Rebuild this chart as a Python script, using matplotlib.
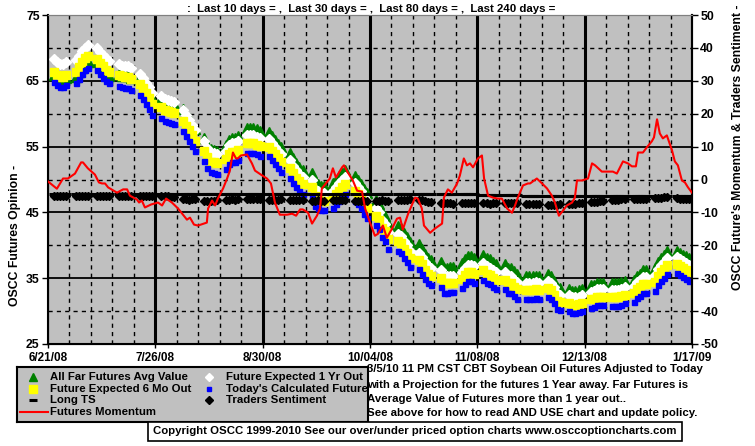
import numpy as np
import pandas as pd
import matplotlib
matplotlib.use("Agg")
import matplotlib.pyplot as plt
from matplotlib.patches import Rectangle

# ---------------- data ----------------
start = pd.Timestamp("2008-06-21")
trade_dates = pd.bdate_range("2008-06-23", "2009-01-16")
days = np.array([(d - start).days for d in trade_dates])

date_labels = ["6/21/08", "7/26/08", "8/30/08", "10/04/08", "11/08/08", "12/13/08", "1/17/09"]

today_calc = [
    64.8, 64.3, 64.0, 64.0, 64.3,
    64.6, 65.3, 66.0, 66.6, 67.0,
    66.6, 66.0, 65.5, 65.0, 64.6,
    64.2, 64.0, 63.9, 63.9, 63.6,
    62.8, 62.2, 61.4, 60.7, 59.8,
    59.3, 58.9, 58.7, 58.6, 58.4,
    57.3, 56.6, 55.9, 55.1, 54.3,
    52.8, 51.8, 51.1, 51.0, 50.9,
    51.6, 52.4, 52.7, 52.7, 53.0,
    54.0, 54.1, 54.1, 53.8, 53.6,
    53.5, 52.9, 52.3, 51.7, 51.2,
    50.3, 49.5, 48.8, 48.2, 47.8,
    47.3, 46.0, 45.6, 45.3, 45.3,
    45.7, 46.3, 46.8, 47.3, 47.8,
    46.8, 46.3, 45.6, 44.8, 44.2,
    43.1, 42.5, 41.3, 40.7, 39.5,
    39.2, 38.9, 38.1, 37.5, 36.7,
    36.4, 35.7, 34.9, 34.3, 34.0,
    33.7, 32.8, 32.8, 32.9, 32.9,
    33.5, 34.1, 34.5, 34.5, 34.3,
    34.8, 34.3, 34.1, 33.7, 33.4,
    33.4, 32.8, 32.8, 32.3, 31.9,
    31.9, 31.9, 31.9, 32.0, 31.9,
    32.2, 31.9, 31.2, 30.3, 30.1,
    30.0, 29.7, 29.7, 29.8, 30.0,
    30.5, 30.6, 30.9, 30.9, 30.9,
    30.8, 30.8, 30.8, 31.0, 31.2,
    31.4, 32.0, 32.3, 32.8, 32.8,
    33.1, 34.0, 34.6, 35.1, 35.7,
    35.8, 35.5, 35.2, 34.9, 34.6,
]

six_mo_out = [
    66.4, 65.9, 65.6, 65.6, 65.9,
    66.4, 67.1, 67.8, 68.4, 68.8,
    68.3, 67.7, 67.2, 66.7, 66.3,
    65.9, 65.7, 65.6, 65.6, 65.3,
    64.5, 63.9, 63.1, 62.4, 61.5,
    61.0, 60.6, 60.4, 60.3, 60.1,
    58.9, 58.2, 57.5, 56.7, 55.9,
    54.4, 53.4, 52.7, 52.6, 52.5,
    53.1, 53.9, 54.2, 54.2, 54.5,
    55.5, 55.6, 55.6, 55.3, 55.1,
    55.0, 54.4, 53.8, 53.2, 52.7,
    51.8, 51.0, 50.3, 49.7, 49.3,
    48.8, 47.5, 47.1, 46.8, 46.8,
    47.2, 47.8, 48.3, 48.8, 49.3,
    48.3, 47.8, 47.1, 46.3, 45.7,
    44.5, 43.9, 42.7, 42.1, 40.9,
    40.6, 40.3, 39.5, 38.9, 38.1,
    37.8, 37.1, 36.3, 35.7, 35.4,
    35.1, 34.2, 34.2, 34.3, 34.3,
    34.9, 35.5, 35.9, 35.9, 35.7,
    36.2, 35.7, 35.5, 35.1, 34.8,
    34.8, 34.2, 34.2, 33.7, 33.3,
    33.2, 33.2, 33.2, 33.3, 33.2,
    33.5, 33.2, 32.5, 31.6, 31.4,
    31.3, 31.0, 31.0, 31.1, 31.3,
    31.8, 31.9, 32.2, 32.2, 32.2,
    32.1, 32.1, 32.1, 32.3, 32.5,
    32.7, 33.3, 33.6, 34.1, 34.1,
    34.4, 35.3, 35.9, 36.4, 37.0,
    37.1, 36.8, 36.5, 36.2, 35.9,
]

one_yr_out = [
    68.3, 67.8, 67.5, 67.5, 67.8,
    68.1, 68.8, 69.5, 70.0, 70.4,
    70.0, 69.4, 68.9, 68.4, 68.0,
    67.5, 67.3, 67.2, 67.2, 66.9,
    66.1, 65.5, 64.7, 64.0, 63.1,
    62.7, 62.3, 62.1, 62.0, 61.8,
    60.5, 59.8, 59.1, 58.3, 57.5,
    55.8, 54.8, 54.1, 54.0, 53.9,
    54.4, 55.2, 55.5, 55.5, 55.8,
    56.7, 56.8, 56.8, 56.5, 56.3,
    56.2, 55.6, 55.0, 54.4, 53.9,
    52.9, 52.1, 51.4, 50.8, 50.4,
    49.9, 48.6, 48.2, 47.9, 47.9,
    48.3, 48.9, 49.4, 49.9, 50.4,
    49.4, 48.9, 48.2, 47.4, 46.8,
    45.6, 45.0, 43.8, 43.2, 42.0,
    41.7, 41.4, 40.6, 40.0, 39.2,
    38.9, 38.2, 37.4, 36.8, 36.5,
    36.2, 35.3, 35.3, 35.4, 35.4,
    36.0, 36.6, 37.0, 37.0, 36.8,
    37.3, 36.8, 36.6, 36.2, 35.9,
    35.9, 35.3, 35.3, 34.8, 34.4,
    34.3, 34.3, 34.3, 34.4, 34.3,
    34.6, 34.3, 33.6, 32.7, 32.5,
    32.4, 32.1, 32.1, 32.2, 32.4,
    32.9, 33.0, 33.3, 33.3, 33.3,
    33.2, 33.2, 33.2, 33.4, 33.6,
    33.8, 34.4, 34.7, 35.2, 35.2,
    35.5, 36.4, 37.0, 37.5, 38.1,
    38.2, 37.9, 37.6, 37.3, 37.0,
]

far_futures = [
    65.9, 65.4, 65.1, 65.1, 65.4,
    65.6, 66.3, 67.0, 67.6, 68.0,
    67.8, 67.2, 66.7, 66.2, 65.8,
    66.0, 65.8, 65.7, 65.7, 65.4,
    65.4, 64.8, 64.0, 63.3, 62.4,
    62.4, 62.1, 61.8, 61.7, 61.5,
    60.7, 60.0, 59.3, 58.5, 57.7,
    56.3, 55.3, 54.6, 54.5, 54.4,
    55.2, 56.0, 56.3, 56.3, 56.6,
    57.8, 57.9, 57.9, 57.6, 57.4,
    57.2, 56.6, 56.0, 55.4, 54.9,
    54.0, 53.2, 52.5, 51.9, 51.5,
    51.0, 49.7, 49.3, 49.0, 49.0,
    49.4, 50.0, 50.5, 51.0, 51.5,
    50.5, 50.0, 49.3, 48.5, 47.9,
    46.9, 46.3, 45.1, 44.5, 43.3,
    43.0, 42.7, 41.9, 41.3, 40.5,
    40.2, 39.5, 38.7, 38.1, 37.8,
    37.5, 36.6, 36.6, 36.7, 36.7,
    37.3, 37.9, 38.3, 38.3, 38.1,
    38.6, 38.1, 37.9, 37.5, 37.2,
    37.2, 36.6, 36.6, 36.1, 35.7,
    35.3, 35.3, 35.3, 35.4, 35.3,
    35.6, 35.3, 34.6, 33.7, 33.5,
    33.4, 33.1, 33.1, 33.2, 33.4,
    33.9, 34.0, 34.3, 34.3, 34.3,
    34.2, 34.2, 34.2, 34.4, 34.6,
    34.8, 35.4, 35.7, 36.2, 36.2,
    36.5, 37.4, 38.0, 38.5, 39.1,
    39.2, 38.9, 38.6, 38.3, 38.0,
]

long_ts = (
    [-4.4] * 5 * 20 + [-4.7] * 5 * 2 + [-5.0] * 5 * 8
)

traders_sentiment = [
    -5.0, -5.0, -5.1, -5.0, -5.0,
    -5.0, -5.1, -5.1, -5.0, -5.0,
    -5.0, -5.0, -5.1, -5.0, -5.0,
    -5.0, -5.1, -5.1, -5.0, -5.0,
    -5.1, -5.0, -5.1, -5.0, -5.1,
    -5.0, -5.1, -5.1, -5.2, -5.2,
    -5.8, -6.0, -6.1, -6.0, -6.0,
    -6.4, -6.4, -6.5, -6.4, -6.3,
    -6.2, -6.1, -6.0, -6.1, -6.0,
    -5.9, -5.9, -5.8, -5.9, -6.0,
    -6.1, -6.1, -6.2, -6.1, -6.0,
    -6.2, -6.3, -6.2, -6.2, -6.1,
    -6.4, -6.4, -6.3, -6.4, -6.5,
    -6.2, -6.2, -6.3, -6.2, -6.1,
    -6.4, -6.4, -6.5, -6.4, -6.4,
    -6.4, -6.4, -6.3, -6.4, -6.5,
    -6.3, -6.2, -6.1, -6.1, -6.0,
    -6.2, -6.3, -6.5, -6.7, -6.9,
    -7.2, -7.2, -7.1, -7.2, -7.3,
    -7.2, -7.2, -7.1, -7.2, -7.2,
    -7.2, -7.2, -7.3, -7.1, -7.2,
    -7.1, -7.1, -7.0, -7.1, -7.2,
    -7.4, -7.4, -7.3, -7.4, -7.5,
    -7.6, -7.6, -7.7, -7.6, -7.5,
    -7.5, -7.4, -7.3, -7.2, -7.0,
    -6.8, -6.7, -6.7, -6.6, -6.6,
    -6.2, -6.1, -6.1, -6.0, -6.0,
    -6.0, -5.9, -5.9, -5.8, -5.8,
    -5.6, -5.5, -5.5, -5.4, -5.4,
    -5.7, -5.8, -5.9, -6.0, -6.0,
]

momentum_days = [
    0.0, 2.9, 4.9, 6.5, 8.8, 10.8, 11.4, 13.0, 15.3, 16.6, 17.6, 18.6, 19.6,
    22.5, 24.5, 25.8, 26.7, 29.0, 29.7, 30.6, 31.6, 33.6, 35.9, 37.2, 38.5,
    40.4, 42.4, 44.0, 45.3, 46.3, 47.6, 48.9, 51.8, 52.2, 53.5, 54.5, 55.4,
    57.1, 58.4, 59.3, 60.3, 61.3, 61.9, 62.9, 64.9, 66.5, 67.5, 69.4, 71.4,
    72.7, 74.0, 75.6, 77.9, 79.6, 80.9, 82.2, 83.1, 84.8, 86.1, 87.7, 88.7,
    89.3, 91.9, 92.9, 93.9, 95.9, 96.5, 97.8, 99.4, 100.8, 102.4, 103.4,
    105.0, 106.6, 107.6, 109.2, 110.5, 112.2, 113.8, 114.8, 115.7, 117.4,
    119.7, 120.6, 121.9, 122.6, 124.6, 126.2, 128.5, 129.1, 130.4, 131.7,
    133.4, 134.3, 135.6, 136.6, 137.6, 138.6, 140.2, 141.5, 142.2, 143.5,
    145.1, 146.7, 148.0, 149.7, 151.3, 152.3, 153.2, 154.9, 156.5, 157.2,
    159.4, 161.1, 162.7, 164.3, 165.3, 166.6, 167.9, 169.2, 170.9, 171.8,
    172.5, 174.1, 176.1, 177.4, 178.4, 180.6, 184.2, 185.5, 187.5, 189.1,
    190.4, 191.7, 192.4, 194.0, 195.3, 196.9, 197.6, 198.6, 199.5, 200.5,
    201.8, 203.5, 204.4, 205.4, 206.7, 207.7, 208.7, 210.0,
]
momentum = [
    -0.6, -2.8, 0.3, 0.3, 1.8, 5.2, 5.2, 3.4, 1.5, -0.9, -1.2, -1.2, -2.4,
    -4.0, -3.0, -3.0, -4.9, -6.1, -7.0, -6.4, -8.5, -7.6, -7.0, -7.9, -5.8,
    -7.0, -8.8, -10.7, -12.2, -11.6, -13.7, -14.0, -13.1, -8.8, -6.4, -7.9, -5.8,
    -2.7, 0.3, 2.7, 8.2, 6.4, 6.4, 7.3, 7.6, 4.9, 2.7, 1.5, 0.3,
    -1.2, -7.0, -10.7, -10.7, -10.4, -11.0, -9.1, -9.1, -10.1, -13.4, -11.0, -8.8,
    -2.7, 0.3, 3.4, 0.6, 3.7, 4.3, 2.1, -0.3, -3.4, -3.7, -8.8,
    -13.1, -17.1, -16.5, -14.0, -17.7, -14.9, -11.9, -11.6, -15.2, -10.5,
    -5.5, -5.8, -8.8, -14.0, -16.2, -14.9, -13.4, -5.5, -3.0, -4.0,
    -1.2, 1.2, 6.4, 4.3, 4.9, 3.7, 6.4, 7.3, 0.3, -4.9,
    -5.5, -5.8, -5.8, -8.8, -10.1, -7.9, -5.5, -1.8, -1.2, -1.2,
    0.3, -1.2, -2.7, -4.9, -7.0, -11.0, -9.5, -7.9, -7.0, -5.5,
    -0.3, -0.3, 0.3, 4.9, 4.3, 2.4, 2.4, 1.8, 5.5, 4.9,
    4.0, 4.0, 8.2, 8.2, 9.8, 11.6, 12.8, 18.3, 14.0, 12.5,
    13.4, 8.8, 5.5, 4.3, -0.3, -0.9, -2.4, -4.0,
]

# ---------------- figure ----------------
W, H = 755, 446
FONT = "Liberation Sans"
plt.rcParams["font.family"] = [FONT, "DejaVu Sans"]
fig = plt.figure(figsize=(W / 100, H / 100), dpi=100, facecolor="white")

def fx(px):
    return px / W

def fy(py):
    return 1 - py / H

TXT = 8.2
L, R, T, B = 48, 692, 15, 344
ax = fig.add_axes([fx(L), fy(B), (R - L) / W, (B - T) / H])
ax.set_facecolor("#C0C0C0")
ax.set_xlim(0, 210)
ax.set_ylim(25, 75)

# grid
for v in [30, 40, 50, 60, 70]:
    ax.axhline(v, color="black", lw=1.0, ls=(0, (3, 3)), zorder=1)
for v in [35, 45, 55, 65]:
    ax.axhline(v, color="black", lw=1.3, zorder=1)
for d in range(7, 210, 7):
    if d % 35 == 0:
        ax.axvline(d, color="black", lw=2.2, zorder=1)
    else:
        ax.axvline(d, color="black", lw=1.0, ls=(0, (3, 3)), zorder=1)

ax.plot(days, far_futures, ls="none", marker="^", ms=6.5, color="#008000",
        mec="#008000", zorder=3)
ax.plot(days, one_yr_out, ls="none", marker="D", ms=5, color="white",
        mec="white", zorder=4)
ax.plot(days, six_mo_out, ls="none", marker="s", ms=6, color="#FFFF00",
        mec="#FFFF00", zorder=5)
ax.plot(days, today_calc, ls="none", marker="s", ms=3.6, color="#0000FF",
        mec="#0000FF", zorder=6)

ax.set_yticks([25, 35, 45, 55, 65, 75])
ax.set_yticklabels(["25", "35", "45", "55", "65", "75"], fontsize=8.8,
                   fontweight="bold", family=FONT)
ax.set_xticks([0, 35, 70, 105, 140, 175, 210])
ax.set_xticklabels(date_labels, fontsize=8.5, fontweight="bold", family=FONT)
ax.tick_params(axis="x", length=3, width=1, pad=3)
ax.tick_params(axis="y", length=4, width=1, pad=2)
for s in ["left", "bottom", "right"]:
    ax.spines[s].set_color("black")
    ax.spines[s].set_linewidth(1.5)
ax.spines["top"].set_color("#808080")

ax2 = ax.twinx()
ax2.set_ylim(-50, 50)
ax2.set_xlim(0, 210)
ax2.plot(days, long_ts, ls="none", marker="_", ms=7, mew=2.2, color="black", zorder=3)
ax2.plot(days, traders_sentiment, ls="none", marker="D", ms=4, color="black",
         mec="black", zorder=4)
ax2.plot(momentum_days, momentum, color="#FF0000", lw=1.5, zorder=5)
ax2.set_yticks(list(range(-50, 51, 10)))
ax2.set_yticklabels([str(v) for v in range(-50, 51, 10)], fontsize=8.8,
                    fontweight="bold", family=FONT)
ax2.tick_params(axis="y", length=4, width=1, pad=2)
ax2.spines["right"].set_linewidth(1.5)
ax2.spines["top"].set_color("#808080")

# axis labels and title
fig.text(fx(15), fy(235), "OSCC Futures Opinion -", rotation=90, ha="center",
         va="center", fontsize=8.8, fontweight="bold")
fig.text(fx(738), fy(147), "OSCC Future's Momentum & Traders Sentiment -",
         rotation=90, ha="center", va="center", fontsize=8.8, fontweight="bold")
fig.text(fx(371), fy(8.5),
         ":  Last 10 days = ,  Last 30 days = ,  Last 80 days = ,  Last 240 days =",
         ha="center", va="center", fontsize=TXT, fontweight="bold")

# info text block
info_lines = [
    "3/5/10 11 PM CST CBT Soybean Oil Futures Adjusted to Today",
    "with a Projection for the futures 1 Year away. Far Futures is",
    "Average Value of Futures more than 1 year out..",
    "See above for how to read AND USE chart and update policy.",
]
for line, py in zip(info_lines, [369.5, 385, 399, 413]):
    fig.text(fx(367), fy(py), line, ha="left", va="center", fontsize=TXT,
             fontweight="bold")

# legend
lg = fig.add_axes([fx(17), fy(422), (368 - 17) / W, (422 - 367) / H])
lg.set_facecolor("#C0C0C0")
lg.set_xlim(17, 368)
lg.set_ylim(422, 367)
lg.set_xticks([])
lg.set_yticks([])
for s in lg.spines.values():
    s.set_color("black")
    s.set_linewidth(1.5)
entries = [
    (33, 377, dict(marker="^", ms=6, color="#008000"), "All Far Futures Avg Value"),
    (209, 377, dict(marker="D", ms=4.5, color="white"), "Future Expected 1 Yr Out"),
    (33, 389, dict(marker="s", ms=6, color="#FFFF00"), "Future Expected 6 Mo Out"),
    (209, 389, dict(marker="s", ms=3.5, color="#0000FF"), "Today's Calculated Future"),
    (33, 400, dict(marker="_", ms=6, mew=2.2, color="black"), "Long TS"),
    (209, 400, dict(marker="D", ms=4, color="black"), "Traders Sentiment"),
]
for x0, y0, st, label in entries:
    lg.plot([x0], [y0], ls="none", **st)
    lg.text(x0 + 17, y0, label, ha="left", va="center", fontsize=TXT,
            fontweight="bold")
lg.plot([20, 48], [412, 412], color="#FF0000", lw=1.5)
lg.text(50, 412, "Futures Momentum", ha="left", va="center", fontsize=TXT,
        fontweight="bold")

# copyright box
fig.patches.append(Rectangle((fx(148), fy(441)), (682 - 148) / W, (441 - 422) / H,
                             transform=fig.transFigure, facecolor="white",
                             edgecolor="black", lw=1.2))
fig.text(fx(415), fy(431.5),
         "Copyright OSCC 1999-2010 See our over/under priced option charts www.osccoptioncharts.com",
         ha="center", va="center", fontsize=TXT, fontweight="bold")

fig.savefig("out.png", dpi=100, facecolor="white")
